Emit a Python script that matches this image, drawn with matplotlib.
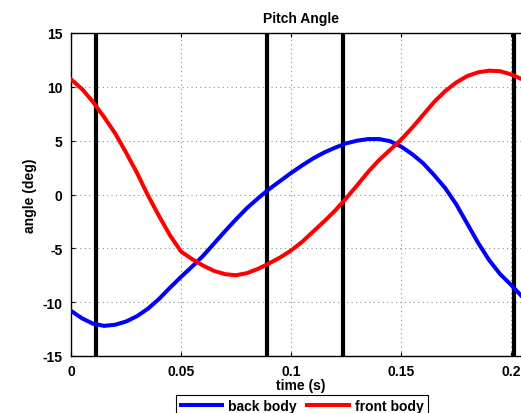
import matplotlib
matplotlib.use("Agg")
import matplotlib.pyplot as plt

plt.rcParams['font.family'] = ['Liberation Sans', 'DejaVu Sans']
plt.rcParams['font.weight'] = 'bold'
plt.rcParams['axes.unicode_minus'] = False

# every 5 ms
time_s = [0.000, 0.005, 0.010, 0.015, 0.020, 0.025, 0.030, 0.035, 0.040, 0.045,
          0.050, 0.055, 0.060, 0.065, 0.070, 0.075, 0.080, 0.085, 0.090, 0.095,
          0.100, 0.105, 0.110, 0.115, 0.120, 0.125, 0.130, 0.135, 0.140, 0.145,
          0.150, 0.155, 0.160, 0.165, 0.170, 0.175, 0.180, 0.185, 0.190, 0.195,
          0.200, 0.205, 0.210]
back_body = [-10.8, -11.5, -12.0, -12.2, -12.1, -11.8, -11.3, -10.6, -9.7, -8.65,
             -7.65, -6.7, -5.7, -4.55, -3.4, -2.3, -1.25, -0.35, 0.5, 1.25,
             2.0, 2.7, 3.35, 3.9, 4.35, 4.75, 5.0, 5.15, 5.15, 4.95,
             4.45, 3.75, 2.9, 1.8, 0.6, -0.9, -2.7, -4.5, -6.1, -7.4,
             -8.4, -9.5, -10.4]
front_body = [10.7, 9.8, 8.6, 7.2, 5.7, 3.9, 2.0, -0.1, -2.0, -3.8,
              -5.3, -6.0, -6.6, -7.1, -7.4, -7.5, -7.3, -6.9, -6.4, -5.85,
              -5.2, -4.4, -3.45, -2.5, -1.5, -0.35, 0.85, 2.1, 3.2, 4.15,
              5.1, 6.2, 7.4, 8.6, 9.6, 10.4, 11.0, 11.35, 11.5, 11.45,
              11.15, 10.7, 10.1]
event_times = [0.0114, 0.0891, 0.1236, 0.2014]

x_ticks = [0, 0.05, 0.1, 0.15, 0.2]
x_labels = ['0', '0.05', '0.1', '0.15', '0.2']
y_ticks = [-15, -10, -5, 0, 5, 10, 15]

fig = plt.figure(figsize=(5.21, 4.14), dpi=100)
# axes runs past the right edge of the figure, like the cropped original
ax = fig.add_axes([71/521, 57/414, 460/521, 323/414])

for t in event_times:
    ax.axvline(t, color='black', lw=3, zorder=3)
ax.plot(time_s, back_body, color='#0000ff', lw=2.9, label='back body', zorder=4,
        solid_joinstyle='round')
ax.plot(time_s, front_body, color='#ff0000', lw=2.9, label='front body', zorder=4,
        solid_joinstyle='round')

ax.set_xlim(0, 0.209)
ax.set_ylim(-15, 15)
ax.set_xticks(x_ticks)
ax.set_xticklabels(x_labels)
ax.set_yticks(y_ticks)
ax.grid(True, color='#8c8c8c', linestyle=(0, (1, 3)), lw=0.8)
ax.tick_params(direction='in', length=3, width=0.8, labelsize=10, pad=6,
               top=True, right=True)
for lab in ax.get_xticklabels() + ax.get_yticklabels():
    lab.set_fontweight('bold')
for s in ax.spines.values():
    s.set_linewidth(1.0)

ax.set_title('Pitch Angle', fontsize=10, fontweight='bold', pad=8)
ax.set_xlabel('time (s)', fontsize=10, fontweight='bold', labelpad=0)
ax.set_ylabel('angle (deg)', fontsize=10, fontweight='bold', labelpad=4)

leg = fig.legend(loc='upper center', bbox_to_anchor=(302/521, 1 - 389/414), ncol=2,
                 fancybox=False, edgecolor='black', framealpha=1,
                 prop={'size': 10, 'weight': 'bold'}, handlelength=3.0,
                 handletextpad=0.4, columnspacing=0.8, borderpad=0.3)
leg.get_frame().set_linewidth(0.8)

fig.savefig('out.png', dpi=100)
